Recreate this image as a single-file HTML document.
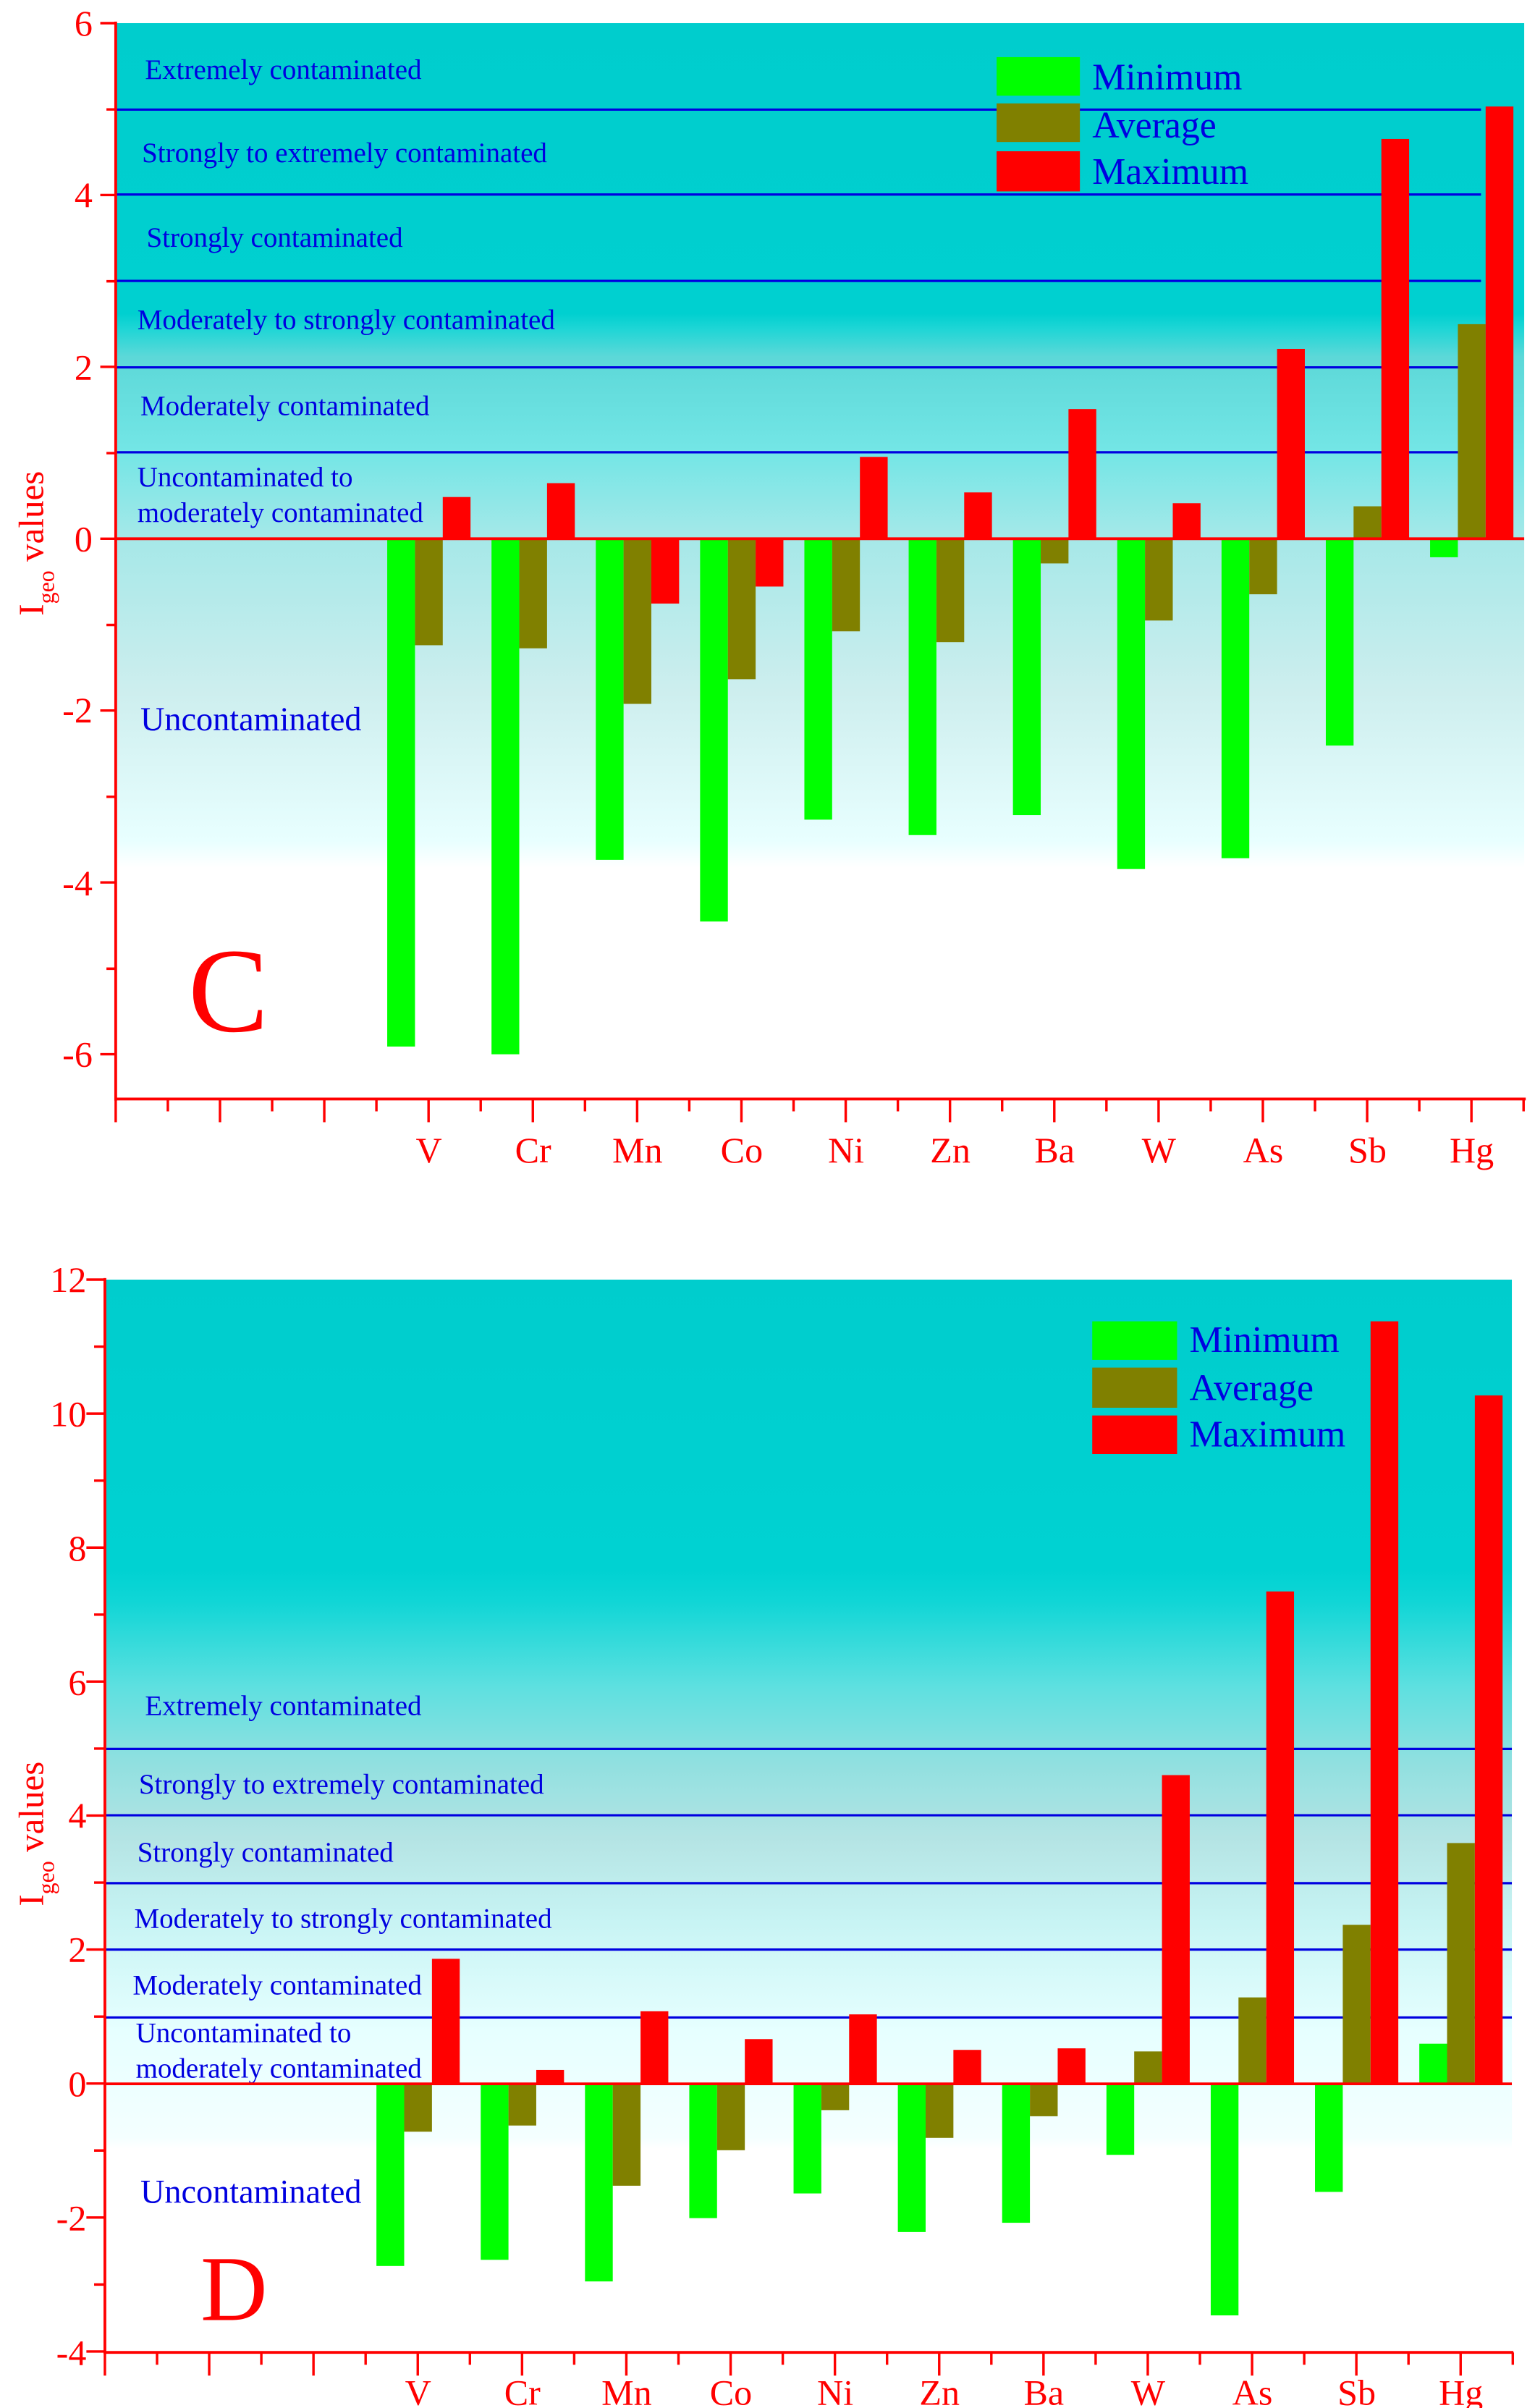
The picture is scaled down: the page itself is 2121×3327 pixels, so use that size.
<!DOCTYPE html>
<html><head><meta charset="utf-8"><style>
html,body{margin:0;padding:0;background:#fff;}
svg{display:block;}
text{font-family:"Liberation Serif","DejaVu Serif",serif;}
</style></head><body>
<svg width="2121" height="3327" viewBox="0 0 995 1560" preserveAspectRatio="none" xmlns="http://www.w3.org/2000/svg" font-family="Liberation Serif, DejaVu Serif, serif">
<defs>
<linearGradient id="gC" x1="0" y1="15" x2="0" y2="712" gradientUnits="userSpaceOnUse">
<stop offset="0" stop-color="#00CDCD"/>
<stop offset="0.27" stop-color="#00D0D0"/>
<stop offset="0.285" stop-color="#20D6D6"/>
<stop offset="0.31" stop-color="#5CD8D8"/>
<stop offset="0.4" stop-color="#74E6E6"/>
<stop offset="0.48" stop-color="#A6E8E8"/>
<stop offset="0.62" stop-color="#CDEEEE"/>
<stop offset="0.76" stop-color="#E8FFFF"/>
<stop offset="0.785" stop-color="#FFFFFF"/>
<stop offset="1" stop-color="#FFFFFF"/>
</linearGradient>
<linearGradient id="gD" x1="0" y1="829" x2="0" y2="1524" gradientUnits="userSpaceOnUse">
<stop offset="0" stop-color="#00CDCD"/>
<stop offset="0.27" stop-color="#00D2D2"/>
<stop offset="0.3" stop-color="#10D6D6"/>
<stop offset="0.38" stop-color="#5EE0E0"/>
<stop offset="0.45" stop-color="#90E0E0"/>
<stop offset="0.52" stop-color="#B4E4E4"/>
<stop offset="0.6" stop-color="#C8F4F4"/>
<stop offset="0.7" stop-color="#E6FFFF"/>
<stop offset="0.8" stop-color="#F4FFFF"/>
<stop offset="0.81" stop-color="#FFFFFF"/>
<stop offset="1" stop-color="#FFFFFF"/>
</linearGradient>
</defs>

<!-- ============ CHART C ============ -->
<rect x="75" y="15" width="913" height="697" fill="url(#gC)"/>
<g stroke="#0000E0" stroke-width="1.5">
<line x1="75" y1="71" x2="960" y2="71"/>
<line x1="75" y1="126" x2="960" y2="126"/>
<line x1="75" y1="182" x2="960" y2="182"/>
<line x1="75" y1="238" x2="960" y2="238"/>
<line x1="75" y1="293" x2="960" y2="293"/>
</g>
<g fill="#0000E0" font-size="18.3">
<text x="94" y="51">Extremely contaminated</text>
<text x="92" y="105">Strongly to extremely contaminated</text>
<text x="95" y="160">Strongly contaminated</text>
<text x="89" y="213">Moderately to strongly contaminated</text>
<text x="91" y="269">Moderately contaminated</text>
<text x="89" y="315">Uncontaminated to</text>
<text x="89" y="338">moderately contaminated</text>
<text x="91" y="473" font-size="21.7">Uncontaminated</text>
</g>
<g>
<rect x="251" y="349" width="18" height="329" fill="#00FF00"/><rect x="269" y="349" width="18" height="69" fill="#808000"/><rect x="287" y="322" width="18" height="27" fill="#FF0000"/>
<rect x="318.6" y="349" width="18" height="334" fill="#00FF00"/><rect x="336.6" y="349" width="18" height="71" fill="#808000"/><rect x="354.6" y="313" width="18" height="36" fill="#FF0000"/>
<rect x="386.2" y="349" width="18" height="208" fill="#00FF00"/><rect x="404.2" y="349" width="18" height="107" fill="#808000"/><rect x="422.2" y="349" width="18" height="42" fill="#FF0000"/>
<rect x="453.8" y="349" width="18" height="248" fill="#00FF00"/><rect x="471.8" y="349" width="18" height="91" fill="#808000"/><rect x="489.8" y="349" width="18" height="31" fill="#FF0000"/>
<rect x="521.4" y="349" width="18" height="182" fill="#00FF00"/><rect x="539.4" y="349" width="18" height="60" fill="#808000"/><rect x="557.4" y="296" width="18" height="53" fill="#FF0000"/>
<rect x="589" y="349" width="18" height="192" fill="#00FF00"/><rect x="607" y="349" width="18" height="67" fill="#808000"/><rect x="625" y="319" width="18" height="30" fill="#FF0000"/>
<rect x="656.6" y="349" width="18" height="179" fill="#00FF00"/><rect x="674.6" y="349" width="18" height="16" fill="#808000"/><rect x="692.6" y="265" width="18" height="84" fill="#FF0000"/>
<rect x="724.2" y="349" width="18" height="214" fill="#00FF00"/><rect x="742.2" y="349" width="18" height="53" fill="#808000"/><rect x="760.2" y="326" width="18" height="23" fill="#FF0000"/>
<rect x="791.8" y="349" width="18" height="207" fill="#00FF00"/><rect x="809.8" y="349" width="18" height="36" fill="#808000"/><rect x="827.8" y="226" width="18" height="123" fill="#FF0000"/>
<rect x="859.4" y="349" width="18" height="134" fill="#00FF00"/><rect x="877.4" y="328" width="18" height="21" fill="#808000"/><rect x="895.4" y="90" width="18" height="259" fill="#FF0000"/>
<rect x="927" y="349" width="18" height="12" fill="#00FF00"/><rect x="945" y="210" width="18" height="139" fill="#808000"/><rect x="963" y="69" width="18" height="280" fill="#FF0000"/>
</g>
<line x1="75" y1="349" x2="988" y2="349" stroke="#FF0000" stroke-width="1.8"/>
<rect x="646" y="37" width="54" height="25" fill="#00FF00"/>
<rect x="646" y="67" width="54" height="25" fill="#808000"/>
<rect x="646" y="98" width="54" height="26" fill="#FF0000"/>
<g fill="#0000E0" font-size="24.3"><text x="708" y="58">Minimum</text><text x="708" y="89">Average</text><text x="708" y="119">Maximum</text></g>
<text x="122" y="668" font-size="78" fill="#FF0000">C</text>
<g stroke="#FF0000">
<line x1="75" y1="14" x2="75" y2="713" stroke-width="1.8"/>
<line x1="75" y1="712" x2="989" y2="712" stroke-width="1.8"/>
<line x1="70" y1="14.2" x2="70" y2="684" stroke-width="10" stroke-dasharray="1.6 109.73"/>
<line x1="72" y1="70.1" x2="72" y2="684" stroke-width="6" stroke-dasharray="1.6 109.73"/>
<line x1="74.2" y1="719.5" x2="990" y2="719.5" stroke-width="15" stroke-dasharray="1.6 66"/>
<line x1="108" y1="716" x2="990" y2="716" stroke-width="8" stroke-dasharray="1.6 66"/>
</g>
<g fill="#FF0000" font-size="23.5" text-anchor="end">
<text x="60" y="23">6</text><text x="60" y="134">4</text><text x="60" y="246">2</text><text x="60" y="357">0</text>
<text x="60" y="468">-2</text><text x="60" y="580">-4</text><text x="60" y="691">-6</text>
</g>
<g fill="#FF0000" font-size="23.5" text-anchor="middle">
<text x="278" y="753">V</text><text x="345.6" y="753">Cr</text><text x="413.2" y="753">Mn</text><text x="480.8" y="753">Co</text><text x="548.4" y="753">Ni</text><text x="616" y="753">Zn</text><text x="683.6" y="753">Ba</text><text x="751.2" y="753">W</text><text x="818.8" y="753">As</text><text x="886.4" y="753">Sb</text><text x="954" y="753">Hg</text>
</g>
<text transform="translate(28,352) rotate(-90)" text-anchor="middle" fill="#FF0000" font-size="23">I<tspan font-size="15" dy="7">geo</tspan><tspan dy="-7"> values</tspan></text>

<!-- ============ CHART D ============ -->
<rect x="68" y="829" width="912" height="695" fill="url(#gD)"/>
<g stroke="#0000E0" stroke-width="1.5">
<line x1="68" y1="1133" x2="980" y2="1133"/>
<line x1="68" y1="1176" x2="980" y2="1176"/>
<line x1="68" y1="1220" x2="980" y2="1220"/>
<line x1="68" y1="1263" x2="980" y2="1263"/>
<line x1="68" y1="1307" x2="980" y2="1307"/>
</g>
<g fill="#0000E0" font-size="18.3">
<text x="94" y="1111">Extremely contaminated</text>
<text x="90" y="1162">Strongly to extremely contaminated</text>
<text x="89" y="1206">Strongly contaminated</text>
<text x="87" y="1249">Moderately to strongly contaminated</text>
<text x="86" y="1292">Moderately contaminated</text>
<text x="88" y="1323">Uncontaminated to</text>
<text x="88" y="1346">moderately contaminated</text>
<text x="91" y="1427" font-size="21.7">Uncontaminated</text>
</g>
<g>
<rect x="244" y="1350" width="18" height="118" fill="#00FF00"/><rect x="262" y="1350" width="18" height="31" fill="#808000"/><rect x="280" y="1269" width="18" height="81" fill="#FF0000"/>
<rect x="311.6" y="1350" width="18" height="114" fill="#00FF00"/><rect x="329.6" y="1350" width="18" height="27" fill="#808000"/><rect x="347.6" y="1341" width="18" height="9" fill="#FF0000"/>
<rect x="379.2" y="1350" width="18" height="128" fill="#00FF00"/><rect x="397.2" y="1350" width="18" height="66" fill="#808000"/><rect x="415.2" y="1303" width="18" height="47" fill="#FF0000"/>
<rect x="446.8" y="1350" width="18" height="87" fill="#00FF00"/><rect x="464.8" y="1350" width="18" height="43" fill="#808000"/><rect x="482.8" y="1321" width="18" height="29" fill="#FF0000"/>
<rect x="514.4" y="1350" width="18" height="71" fill="#00FF00"/><rect x="532.4" y="1350" width="18" height="17" fill="#808000"/><rect x="550.4" y="1305" width="18" height="45" fill="#FF0000"/>
<rect x="582" y="1350" width="18" height="96" fill="#00FF00"/><rect x="600" y="1350" width="18" height="35" fill="#808000"/><rect x="618" y="1328" width="18" height="22" fill="#FF0000"/>
<rect x="649.6" y="1350" width="18" height="90" fill="#00FF00"/><rect x="667.6" y="1350" width="18" height="21" fill="#808000"/><rect x="685.6" y="1327" width="18" height="23" fill="#FF0000"/>
<rect x="717.2" y="1350" width="18" height="46" fill="#00FF00"/><rect x="735.2" y="1329" width="18" height="21" fill="#808000"/><rect x="753.2" y="1150" width="18" height="200" fill="#FF0000"/>
<rect x="784.8" y="1350" width="18" height="150" fill="#00FF00"/><rect x="802.8" y="1294" width="18" height="56" fill="#808000"/><rect x="820.8" y="1031" width="18" height="319" fill="#FF0000"/>
<rect x="852.4" y="1350" width="18" height="70" fill="#00FF00"/><rect x="870.4" y="1247" width="18" height="103" fill="#808000"/><rect x="888.4" y="856" width="18" height="494" fill="#FF0000"/>
<rect x="920" y="1324" width="18" height="26" fill="#00FF00"/><rect x="938" y="1194" width="18" height="156" fill="#808000"/><rect x="956" y="904" width="18" height="446" fill="#FF0000"/>
</g>
<line x1="68" y1="1350" x2="980" y2="1350" stroke="#FF0000" stroke-width="1.8"/>
<rect x="708" y="856" width="55" height="25" fill="#00FF00"/>
<rect x="708" y="886" width="55" height="26" fill="#808000"/>
<rect x="708" y="917" width="55" height="25" fill="#FF0000"/>
<g fill="#0000E0" font-size="24.3"><text x="771" y="876">Minimum</text><text x="771" y="907">Average</text><text x="771" y="937">Maximum</text></g>
<text x="130" y="1503" font-size="60" fill="#FF0000">D</text>
<g stroke="#FF0000">
<line x1="68" y1="828" x2="68" y2="1525" stroke-width="1.8"/>
<line x1="68" y1="1524" x2="981" y2="1524" stroke-width="1.8"/>
<line x1="62" y1="828.2" x2="62" y2="1526" stroke-width="12" stroke-dasharray="1.6 85.2"/>
<line x1="64.5" y1="871.6" x2="64.5" y2="1526" stroke-width="7" stroke-dasharray="1.6 85.2"/>
<line x1="67.2" y1="1531.5" x2="982" y2="1531.5" stroke-width="15" stroke-dasharray="1.6 66"/>
<line x1="101" y1="1528" x2="982" y2="1528" stroke-width="8" stroke-dasharray="1.6 66"/>
</g>
<g fill="#FF0000" font-size="23.5" text-anchor="end">
<text x="56" y="837">12</text><text x="56" y="924">10</text><text x="56" y="1011">8</text><text x="56" y="1098">6</text>
<text x="56" y="1184">4</text><text x="56" y="1271">2</text><text x="56" y="1358">0</text><text x="56" y="1445">-2</text><text x="56" y="1532">-4</text>
</g>
<g fill="#FF0000" font-size="23.5" text-anchor="middle">
<text x="271" y="1558">V</text><text x="338.6" y="1558">Cr</text><text x="406.2" y="1558">Mn</text><text x="473.8" y="1558">Co</text><text x="541.4" y="1558">Ni</text><text x="609" y="1558">Zn</text><text x="676.6" y="1558">Ba</text><text x="744.2" y="1558">W</text><text x="811.8" y="1558">As</text><text x="879.4" y="1558">Sb</text><text x="947" y="1558">Hg</text>
</g>
<text transform="translate(28,1188) rotate(-90)" text-anchor="middle" fill="#FF0000" font-size="23">I<tspan font-size="15" dy="7">geo</tspan><tspan dy="-7"> values</tspan></text>
</svg>
</body></html>
